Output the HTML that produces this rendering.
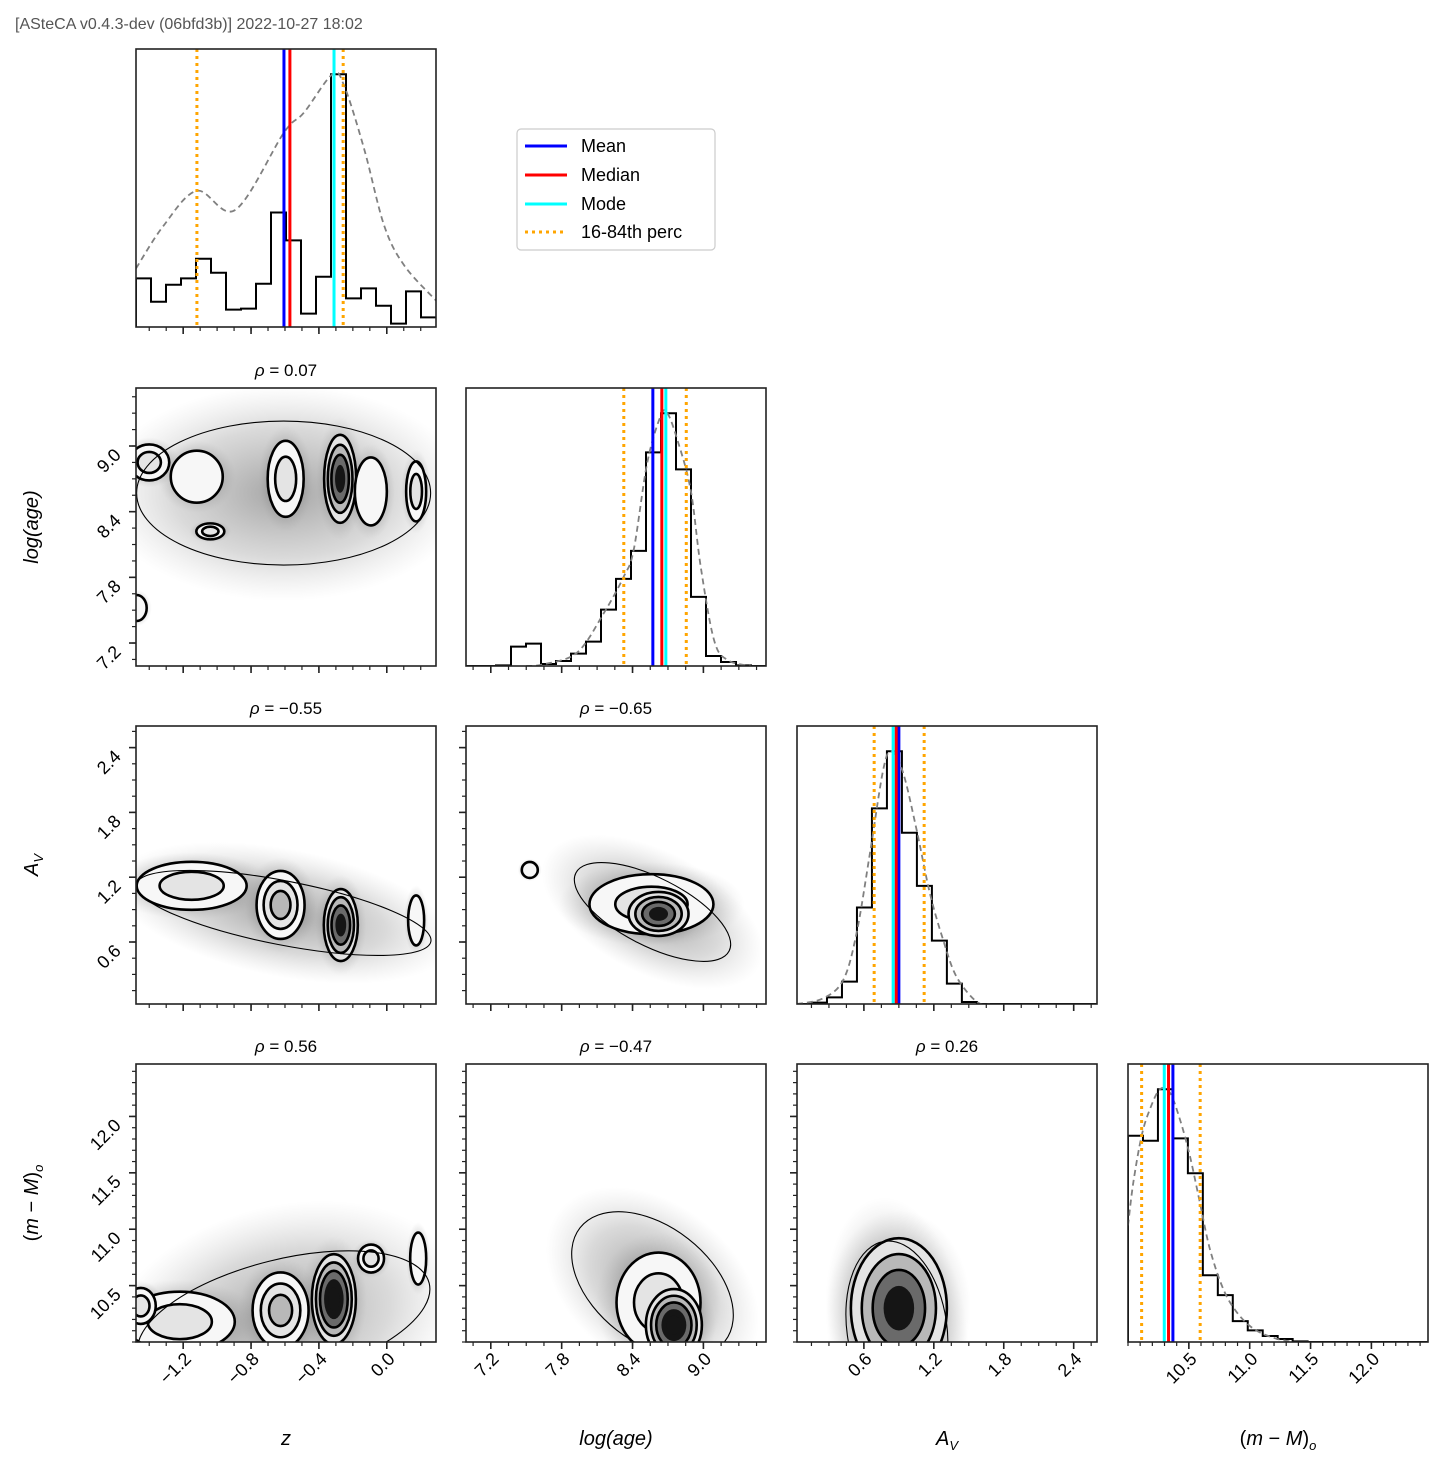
<!DOCTYPE html>
<html><head><meta charset="utf-8"><style>
html,body{margin:0;padding:0;background:#fff;}
svg{display:block;font-family:"Liberation Sans","DejaVu Sans",sans-serif;}
</style></head><body>
<svg id="fig" width="1443" height="1466" viewBox="0 0 1443 1466" xmlns="http://www.w3.org/2000/svg">
<defs>
<radialGradient id="cloud"><stop offset="0" stop-color="#333" stop-opacity="0.45"/><stop offset="0.6" stop-color="#555" stop-opacity="0.22"/><stop offset="1" stop-color="#888" stop-opacity="0"/></radialGradient>
</defs>
<text x="15" y="29" font-size="16" fill="#555">[ASteCA v0.4.3-dev (06bfd3b)] 2022-10-27 18:02</text>
<g id="plots"></g>
<g>
<rect x="517" y="129" width="198" height="121" rx="4" fill="#fff" stroke="#ccc" stroke-width="1.2"/>
<g><line x1="525" y1="146" x2="567" y2="146" stroke="#0000ff" stroke-width="3"/><text x="581" y="152" font-size="18">Mean</text></g>
<g><line x1="525" y1="175" x2="567" y2="175" stroke="#ff0000" stroke-width="3"/><text x="581" y="181" font-size="18">Median</text></g>
<g><line x1="525" y1="204" x2="567" y2="204" stroke="#00ffff" stroke-width="3"/><text x="581" y="210" font-size="18">Mode</text></g>
<g><line x1="525" y1="232" x2="567" y2="232" stroke="#ffa500" stroke-width="3" stroke-dasharray="3,4"/><text x="581" y="238" font-size="18">16-84th perc</text></g>
</g>
</svg>
<script>
// ---- axis domains / ticks ----
const zDom=[-1.478,0.29], ageDom=[6.99,9.53], avDom=[0.026,2.6], dmDom=[10.0,12.465];
const zTicks=[-1.2,-0.8,-0.4,0.0], ageTicks=[7.2,7.8,8.4,9.0], avTicks=[0.6,1.2,1.8,2.4], dmTicks=[10.5,11.0,11.5,12.0];
const zTickLabels=["−1.2","−0.8","−0.4","0.0"], ageTickLabels=["7.2","7.8","8.4","9.0"], avTickLabels=["0.6","1.2","1.8","2.4"], dmTickLabels=["10.5","11.0","11.5","12.0"];
// ---- 1D histograms ----
const zBinStart=-1.478, zBinW=0.0884;
const zCounts=[146,76,127,146,205,163,52,55,130,344,260,40,151,759,86,116,64,10,107,29];
const zKdeX=[-1.478,-1.316,-1.119,-0.892,-0.606,-0.488,-0.320,-0.251,-0.133,-0.015,0.104,0.291];
const zKdeY=[176,304,409,352,584,644,759,724,534,304,184,79];
const zStats=[-0.606,-0.571,-0.311,-1.119,-0.257]; // mean, median, mode, p16, p84
const ageBinStart=6.99, ageBinW=0.127;
const ageCounts=[0,0,2,58,67,6,15,37,73,169,261,345,640,757,589,207,30,12,2,0];
const ageKdeX=[7.50,7.646,7.930,8.156,8.326,8.410,8.524,8.637,8.694,8.779,8.892,8.977,9.090,9.203,9.401];
const ageKdeY=[0,5,40,158,268,348,608,748,758,678,528,298,78,18,0];
const ageStats=[8.572,8.648,8.682,8.326,8.855];
const avBinStart=0.026, avBinW=0.1286;
const avCounts=[0,4,20,67,289,586,757,513,354,190,61,6,0,0,0,0,0,0,0,0];
const avKdeX=[0.026,0.251,0.423,0.537,0.652,0.766,0.837,0.937,1.052,1.166,1.280,1.394,1.566,1.680];
const avKdeY=[0,17,72,212,452,702,757,692,522,332,192,82,7,0];
const avStats=[0.900,0.877,0.851,0.688,1.117];
const dmBinStart=10.0, dmBinW=0.123;
const dmCounts=[621,606,761,613,508,201,141,63,35,18,9,2,0,0,0,0,0,0,0,0];
const dmKdeX=[10.0,10.044,10.112,10.180,10.262,10.344,10.426,10.508,10.590,10.672,10.781,10.891,11.027,11.191,11.355];
const dmKdeY=[351,481,621,701,761,751,671,561,421,281,161,91,41,13,0];
const dmStats=[10.369,10.333,10.298,10.112,10.593];
// ---- 2D panels: correlation, ellipse centre, density blobs ----
const rhoValues=["0.07","−0.55","−0.65","0.56","−0.47","0.26"];
const ellCX=[-0.608,-0.608,8.569,-0.608,8.569,0.883];
const ellCY=[8.57,0.869,0.878,10.2,10.51,10.12];
const blobZAgeX=[-1.12,-1.04,-0.596,-0.275,-0.094,0.173,-1.474,-1.40];
const blobZAgeY=[8.72,8.22,8.70,8.70,8.585,8.585,7.52,8.85];
const blobZAgeL=[1,2,2,4,1,2,1,2];
const blobZAvX=[-1.15,-0.626,-0.271,0.173];
const blobZAvY=[1.12,0.943,0.757,0.80];
const blobZAvL=[2,3,4,1];
const blobAgeAvX=[7.53,8.56,8.62];
const blobAgeAvY=[1.267,0.95,0.86];
const blobAgeAvL=[1,2,4];
const blobZDmX=[-1.22,-0.626,-0.312,-0.093,0.185,-1.45];
const blobZDmY=[10.18,10.28,10.38,10.74,10.74,10.32];
const blobZDmL=[2,3,5,2,1,2];
const blobAgeDmX=[8.62,8.75];
const blobAgeDmY=[10.35,10.15];
const blobAgeDmL=[2,5];
const blobAvDmX=[0.90];
const blobAvDmY=[10.3];
const blobAvDmL=[4];

const NS="http://www.w3.org/2000/svg";
const root=document.getElementById('plots');
const colX=[136,466,797,1128], rowY=[49,388,726,1064], W=300, H=278;
function mk(tag,attrs,parent){const e=document.createElementNS(NS,tag);for(const k in attrs)e.setAttribute(k,attrs[k]);(parent||root).appendChild(e);return e;}
function sx(dom,c,v){return colX[c]+(v-dom[0])/(dom[1]-dom[0])*W;}
function sy(dom,r,v){return rowY[r]+H-(v-dom[0])/(dom[1]-dom[0])*H;}
function minorList(dom,major,step){const out=[];let s=major[0];while(s-step>=dom[0])s-=step;for(let v=s;v<=dom[1]+1e-9;v+=step)out.push(v);return out;}
function smoothPath(pts){let d='M'+pts[0][0]+','+pts[0][1];
  for(let i=0;i<pts.length-1;i++){const p0=pts[Math.max(i-1,0)],p1=pts[i],p2=pts[i+1],p3=pts[Math.min(i+2,pts.length-1)];
    const c1x=p1[0]+(p2[0]-p0[0])/6,c1y=p1[1]+(p2[1]-p0[1])/6,c2x=p2[0]-(p3[0]-p1[0])/6,c2y=p2[1]-(p3[1]-p1[1])/6;
    d+=' C'+c1x+','+c1y+' '+c2x+','+c2y+' '+p2[0]+','+p2[1];}
  return d;}

const doms=[zDom,ageDom,avDom,dmDom];
const ticksA=[zTicks,ageTicks,avTicks,dmTicks];
const labelsA=[zTickLabels,ageTickLabels,avTickLabels,dmTickLabels];
const minorStep=[0.1,0.15,0.15,0.1];
const names=["z","log-age","av","dm"];

function panelFrame(c,r,name){
  const g=mk('g',{});
  
  
  const cp=mk('clipPath',{id:'cp'+c+r},g);
  mk('rect',{x:colX[c],y:rowY[r],width:W,height:H},cp);
  const inner=mk('g',{'clip-path':'url(#cp'+c+r+')'},g);
  return {g,inner};
}
function frameBorder(g,c,r){
  const b=mk('rect',{x:colX[c],y:rowY[r],width:W,height:H,fill:'none',stroke:'#222','stroke-width':1.6},g);
  
  
}
function xAxis(g,c,r,showLabels){
  const dom=doms[c];const yb=rowY[r]+H;
  minorList(dom,ticksA[c],minorStep[c]).forEach(v=>{const x=sx(dom,c,v);mk('line',{x1:x,x2:x,y1:yb,y2:yb+4,stroke:'#222','stroke-width':1.2},g);});
  ticksA[c].forEach((v,i)=>{const x=sx(dom,c,v);mk('line',{x1:x,x2:x,y1:yb,y2:yb+7,stroke:'#222','stroke-width':1.6},g);
    if(showLabels){const ax=x+9,ay=yb+18;const t=mk('text',{x:ax,y:ay,'font-size':18,'text-anchor':'end',transform:'rotate(-45 '+ax+' '+ay+')'},g);t.textContent=labelsA[c][i];
      
      }});
}
function yAxis(g,c,r,varIdx,showLabels){
  const dom=doms[varIdx];const xl=colX[c];
  minorList(dom,ticksA[varIdx],minorStep[varIdx]).forEach(v=>{const y=sy(dom,r,v);mk('line',{x1:xl-4,x2:xl,y1:y,y2:y,stroke:'#222','stroke-width':1.2},g);});
  ticksA[varIdx].forEach((v,i)=>{const y=sy(dom,r,v);mk('line',{x1:xl-7,x2:xl,y1:y,y2:y,stroke:'#222','stroke-width':1.6},g);
    if(showLabels){const ax=xl-14,ay=y+10;const t=mk('text',{x:ax,y:ay,'font-size':18,'text-anchor':'end',transform:'rotate(-45 '+ax+' '+ay+')'},g);t.textContent=labelsA[varIdx][i];
      
      }});
}

// ---- histograms ----
const hists=[[zBinStart,zBinW,zCounts,zKdeX,zKdeY,zStats],[ageBinStart,ageBinW,ageCounts,ageKdeX,ageKdeY,ageStats],[avBinStart,avBinW,avCounts,avKdeX,avKdeY,avStats],[dmBinStart,dmBinW,dmCounts,dmKdeX,dmKdeY,dmStats]];
hists.forEach((h,i)=>{
  const [b0,bw,counts,kx,ky,st]=h;const dom=doms[i];
  const ymax=Math.max(...counts)*1.1;
  const yc=v=>rowY[i]+H-v/ymax*H;
  const {g,inner}=panelFrame(i,i,'hist-'+names[i]);
  let d='M'+sx(dom,i,b0)+','+yc(0);
  counts.forEach((v,k)=>{const x0=sx(dom,i,b0+k*bw),x1=sx(dom,i,b0+(k+1)*bw);d+=' L'+x0+','+yc(v)+' L'+x1+','+yc(v);});
  const hp=mk('path',{d:d,fill:'none',stroke:'#000','stroke-width':2},inner);
  
  
  const kd=smoothPath(kx.map((x,k)=>[sx(dom,i,x),yc(ky[k])]));
  const kp=mk('path',{d:kd,fill:'none',stroke:'#808080','stroke-width':1.8,'stroke-dasharray':'6,4'},inner);
  
  
  const cols=['#0000ff','#ff0000','#00ffff','#ffa500','#ffa500'];
  const lnames=['mean-line','median-line','mode-line','perc16-line','perc84-line'];
  st.forEach((v,k)=>{const x=sx(dom,i,v);const l=mk('line',{x1:x,x2:x,y1:rowY[i],y2:rowY[i]+H,stroke:cols[k],'stroke-width':3},inner);
    if(k>=3)l.setAttribute('stroke-dasharray','3,4');
    
    });
  frameBorder(g,i,i);
  xAxis(g,i,i,i===3);
});

// ---- 2D panels ----
const pairs=[[0,1],[0,2],[1,2],[0,3],[1,3],[2,3]];
const ellStyle=[[147,72,0],[150,32,11],[86,34,27],[150,60,-14],[92,58,38],[50,88,-8]];
const blobStyle=[
 [[26,26],[14,8],[18,38],[16,44],[16,34],[10,30],[10,13],[20,18]],
 [[55,24],[24,34],[17,36],[8,25]],
 [[8,8],[62,30],[30,22]],
 [[55,30],[28,38],[22,45],[13,14],[8,26],[15,18]],
 [[42,50],[28,36]],
 [[48,70]]];
const blobData=[[blobZAgeX,blobZAgeY,blobZAgeL],[blobZAvX,blobZAvY,blobZAvL],[blobAgeAvX,blobAgeAvY,blobAgeAvL],[blobZDmX,blobZDmY,blobZDmL],[blobAgeDmX,blobAgeDmY,blobAgeDmL],[blobAvDmX,blobAvDmY,blobAvDmL]];
const cloudScale=[[1.25,1.5],[1.15,2.0],[1.4,1.8],[1.2,1.9],[1.3,1.4],[1.4,1.5]];
const fills=['#f7f7f7','#e4e4e4','#b8b8b8','#6a6a6a','#151515'];
pairs.forEach((p,n)=>{
  const [xi,yi]=p;const c=xi,r=yi;const xd=doms[xi],yd=doms[yi];
  const {g,inner}=panelFrame(c,r,'scatter-'+names[xi]+'-vs-'+names[yi]);
  const cx=sx(xd,c,ellCX[n]),cy=sy(yd,r,ellCY[n]);const [erx,ery,ang]=ellStyle[n];
  const cl=mk('ellipse',{cx:cx,cy:cy,rx:erx*cloudScale[n][0],ry:ery*cloudScale[n][1],fill:'url(#cloud)',transform:'rotate('+ang+' '+cx+' '+cy+')'},inner);
  
  
  const [bx,by,bl]=blobData[n];
  bx.forEach((v,k)=>{const X=sx(xd,c,v),Y=sy(yd,r,by[k]);const [rx,ry]=blobStyle[n][k];
    const hc=mk('ellipse',{cx:X,cy:Y,rx:rx*1.5,ry:ry*1.4,fill:'url(#cloud)'},inner);
    
    });
  bx.forEach((v,k)=>{const X=sx(xd,c,v),Y=sy(yd,r,by[k]);const [rx,ry]=blobStyle[n][k];const L=bl[k];
    for(let j=0;j<L;j++){const f=1-j/(L+0.4);
      const e=mk('ellipse',{cx:X,cy:Y,rx:rx*f,ry:ry*f,fill:fills[Math.min(j+(L>3?1:0),4)],stroke:j<3?'#000':'none','stroke-width':2.6},inner);
      
      }});
  const el=mk('ellipse',{cx:cx,cy:cy,rx:erx,ry:ery,fill:'none',stroke:'#000','stroke-width':1.1,transform:'rotate('+ang+' '+cx+' '+cy+')'},inner);
  
  
  frameBorder(g,c,r);
  xAxis(g,c,r,r===3);
  yAxis(g,c,r,yi,c===0);
  const t=mk('text',{x:colX[c]+W/2,y:rowY[r]-12,'font-size':17,'text-anchor':'middle'},g);
  t.innerHTML='<tspan font-style="italic">ρ</tspan> = '+rhoValues[n];
  
  
});

// ---- axis titles ----
const xTitles=['<tspan font-style="italic">z</tspan>','<tspan font-style="italic">log(age)</tspan>','<tspan font-style="italic">A</tspan><tspan font-size="13" dy="5" font-style="italic">V</tspan>','(<tspan font-style="italic">m</tspan> − <tspan font-style="italic">M</tspan>)<tspan font-size="13" dy="5" font-style="italic">o</tspan>'];
xTitles.forEach((s,i)=>{const t=mk('text',{x:colX[i]+W/2,y:1445,'font-size':20,'text-anchor':'middle'});t.innerHTML=s;
  
  });
const yTitles=[null,'<tspan font-style="italic">log(age)</tspan>','<tspan font-style="italic">A</tspan><tspan font-size="13" dy="5" font-style="italic">V</tspan>','(<tspan font-style="italic">m</tspan> − <tspan font-style="italic">M</tspan>)<tspan font-size="13" dy="5" font-style="italic">o</tspan>'];
yTitles.forEach((s,i)=>{if(!s)return;const y=rowY[i]+H/2;const t=mk('text',{x:38,y:y,'font-size':20,'text-anchor':'middle',transform:'rotate(-90 38 '+y+')'});t.innerHTML=s;
  
  });
</script>
</body></html>
